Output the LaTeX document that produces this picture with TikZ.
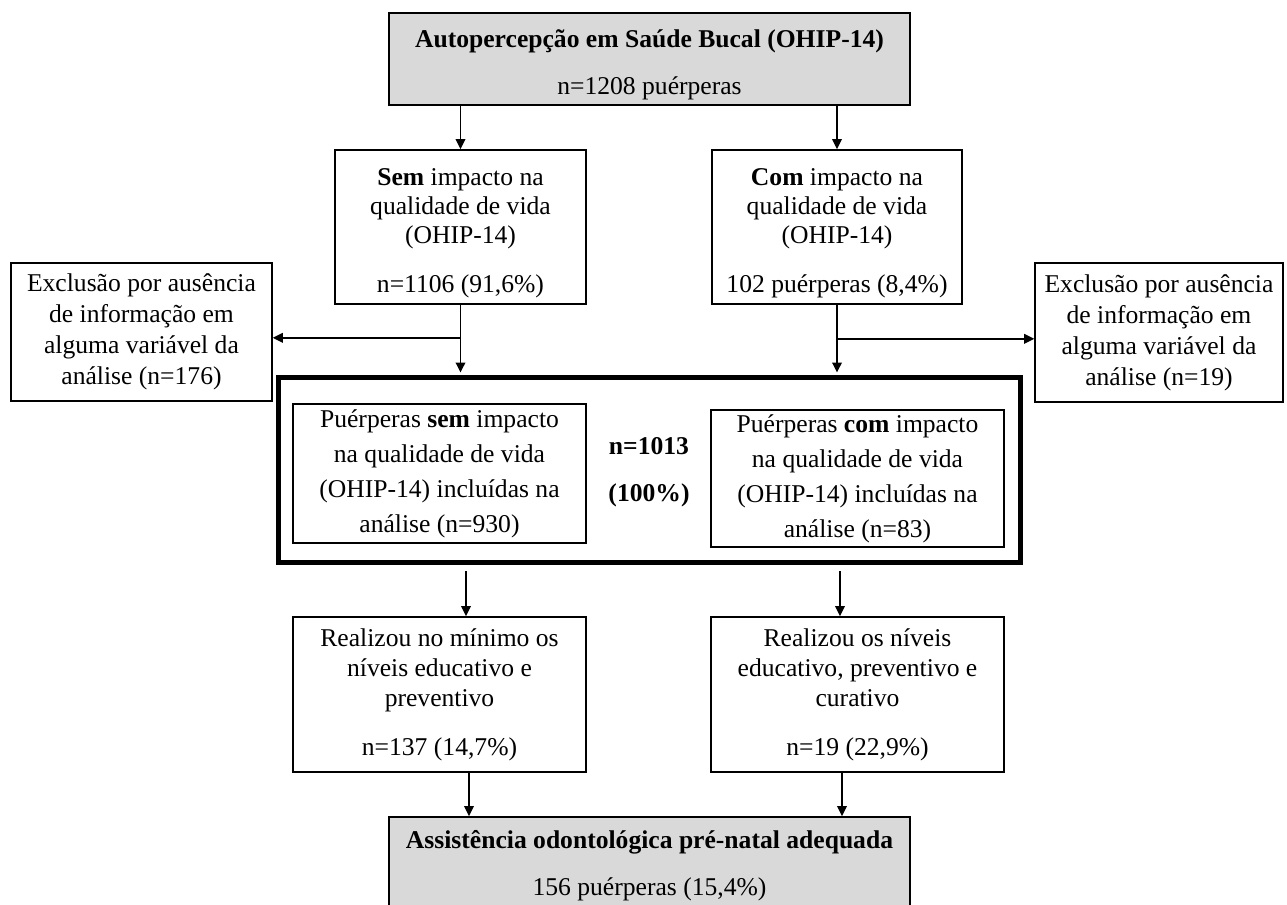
\documentclass[tikz,border=0pt]{standalone}
\usepackage{fontspec}
\setmainfont{Liberation Serif}
\usetikzlibrary{arrows.meta,calc}
\definecolor{boxgrey}{HTML}{D9D9D9}
% taller first line, pushes a box's text a little lower
\newcommand{\toppad}{\rule{0pt}{14.7pt}}

\begin{document}
\begin{tikzpicture}[x=0.5pt,y=-0.5pt,
  box/.style={draw, line width=0.8pt, align=center, inner sep=0pt,
    font=\fontsize{12.8}{14.6}\selectfont},
  greybox/.style={box, fill=boxgrey},
  widebox/.style={box, font=\fontsize{12.8}{17.5}\selectfont},
  exclbox/.style={box, font=\fontsize{12.8}{15.5}\selectfont},
  realbox/.style={box, font=\fontsize{12.8}{15.2}\selectfont},
  framebox/.style={draw, line width=2.5pt, inner sep=0pt},
  arr/.style={line width=0.75pt, -{Triangle[length=5pt,width=4.8pt]}},
]
\useasboundingbox (0,0) rectangle (1287,905);
\fill[white] (0,0) rectangle (1287,905);
\clip (0,0) rectangle (1287,905);

% top level
\node[greybox, minimum width=260.5pt, minimum height=46pt] (top) at (649.5,59)
  {\toppad\textbf{Autopercepção em Saúde Bucal (OHIP-14)}\\[9pt] n=1208 puérperas};

% first split
\node[box, minimum width=125.5pt, minimum height=77pt] (sem) at (460.5,227)
  {\toppad\textbf{Sem} impacto na\\ qualidade de vida\\ (OHIP-14)\\[10pt] n=1106 (91,6\%)};
\node[box, minimum width=125pt, minimum height=77pt] (com) at (837,227)
  {\toppad\textbf{Com} impacto na\\ qualidade de vida\\ (OHIP-14)\\[10pt] 102 puérperas (8,4\%)};

% exclusions
\node[exclbox, minimum width=130.5pt, minimum height=69pt] (exclL) at (141.5,332)
  {Exclusão por ausência\\ de informação em\\ alguma variável da\\ análise (n=176)};
\node[exclbox, minimum width=124pt, minimum height=69.5pt] (exclR) at (1159,332.5)
  {Exclusão por ausência\\ de informação em\\ alguma variável da\\ análise (n=19)};

% analysed sample
\node[framebox, minimum width=371pt, minimum height=92.5pt] (frame) at (649.5,470) {};
\node[widebox, minimum width=146.5pt, minimum height=69.5pt] (inL) at (439.5,473.5)
  {Puérperas \textbf{sem} impacto\\ na qualidade de vida\\ (OHIP-14) incluídas na\\ análise (n=930)};
\node[widebox, minimum width=146.5pt, minimum height=68.5pt] (inR) at (857.5,478.5)
  {Puérperas \textbf{com} impacto\\ na qualidade de vida\\ (OHIP-14) incluídas na\\ análise (n=83)};
\node[align=center, inner sep=0pt, font=\fontsize{12.8}{14.6}\selectfont\bfseries] (total) at (649,472)
  {n=1013\\[9pt] (100\%)};

% dental care levels
\node[realbox, minimum width=146.5pt, minimum height=77.5pt] (realL) at (439.5,694.5)
  {Realizou no mínimo os\\ níveis educativo e\\ preventivo\\[9pt] n=137 (14,7\%)};
\node[realbox, minimum width=146.5pt, minimum height=77.5pt] (realR) at (857.5,694.5)
  {Realizou os níveis\\ educativo, preventivo e\\ curativo\\[9pt] n=19 (22,9\%)};

% outcome
\node[greybox, minimum width=260.5pt, minimum height=49pt] (out) at (649.5,866)
  {\textbf{Assistência odontológica pré-natal adequada}\\[9pt] 156 puérperas (15,4\%)};

% connector columns
\coordinate (cA) at (466,0);
\coordinate (cB) at (840,0);
\coordinate (cC) at (469,0);
\coordinate (cD) at (842,0);

% connectors
\draw[arr] (sem.north |- top.south) -- (sem.north);
\draw[arr] (com.north |- top.south) -- (com.north);

\draw[arr] (sem.south) -- ($(sem.south |- frame.north)+(0,-2.5)$);
\coordinate (brL) at ($(sem.south)+(0,33)$);
\draw[arr] (brL) -- (brL -| exclL.east);

\draw[arr] (com.south) -- ($(com.south |- frame.north)+(0,-2.5)$);
\coordinate (brR) at ($(com.south)+(0,34)$);
\draw[arr] (brR) -- (brR -| exclR.west);

\draw[arr] ($(frame.south -| cA)+(0,6)$) -- (realL.north -| cA);
\draw[arr] ($(frame.south -| cB)+(0,6)$) -- (realR.north -| cB);

\draw[arr] (realL.south -| cC) -- (out.north -| cC);
\draw[arr] (realR.south -| cD) -- (out.north -| cD);
\end{tikzpicture}
\end{document}
